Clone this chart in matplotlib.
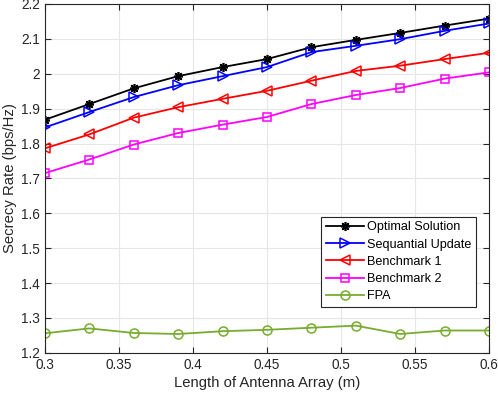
import numpy as np
import matplotlib
matplotlib.use("Agg")
import matplotlib.pyplot as plt
from matplotlib.ticker import MultipleLocator, FormatStrFormatter

plt.rcParams['font.family'] = ['Liberation Sans', 'DejaVu Sans']

L = [0.30, 0.33, 0.36, 0.39, 0.42, 0.45, 0.48, 0.51, 0.54, 0.57, 0.60]
optimal = [1.868, 1.913, 1.958, 1.993, 2.019, 2.042, 2.076, 2.097, 2.117, 2.138, 2.158]
sequential = [1.846, 1.890, 1.933, 1.967, 1.993, 2.019, 2.062, 2.080, 2.099, 2.123, 2.144]
bench1 = [1.786, 1.826, 1.874, 1.904, 1.928, 1.951, 1.980, 2.008, 2.023, 2.042, 2.060]
bench2 = [1.715, 1.754, 1.797, 1.830, 1.854, 1.876, 1.913, 1.939, 1.959, 1.986, 2.004]
fpa = [1.256, 1.270, 1.257, 1.254, 1.262, 1.266, 1.272, 1.278, 1.254, 1.264, 1.264]

fig = plt.figure(figsize=(4.98, 3.96), dpi=100)
ax = fig.add_axes([0.090, 0.109, 0.892, 0.881])

green = (0.466, 0.674, 0.188)
ax.plot(L, optimal, color='black', marker=(8, 2, 0), markersize=6.5, mew=1.2, lw=1.3, label='Optimal Solution')
ax.plot(L, sequential, color='blue', marker='>', markersize=7.5, mfc='none', mew=1.1, lw=1.3, label='Sequantial Update')
ax.plot(L, bench1, color='red', marker='<', markersize=7.5, mfc='none', mew=1.1, lw=1.3, label='Benchmark 1')
ax.plot(L, bench2, color='magenta', marker='s', markersize=5.5, mfc='none', mew=1.1, lw=1.3, label='Benchmark 2')
ax.plot(L, fpa, color=green, marker='o', markersize=6.5, mfc='none', mew=1.1, lw=1.3, label='FPA')

ax.set_xlim(0.3, 0.6)
ax.set_ylim(1.2, 2.2)
ax.xaxis.set_major_locator(MultipleLocator(0.05))
ax.yaxis.set_major_locator(MultipleLocator(0.1))
ax.xaxis.set_major_formatter(FormatStrFormatter('%g'))
ax.yaxis.set_major_formatter(FormatStrFormatter('%g'))
ax.tick_params(direction='in', top=True, right=True, labelsize=9.8, length=4, color='#262626', labelcolor='#262626')
ax.grid(True, color='#e6e6e6', linewidth=0.8)
ax.set_axisbelow(True)
for s in ax.spines.values():
    s.set_color('#262626')
    s.set_linewidth(0.8)

ax.set_xlabel('Length of Antenna Array (m)', fontsize=10.7, color='#262626', labelpad=3)
ax.set_ylabel('Secrecy Rate (bps/Hz)', fontsize=10.7, color='#262626', labelpad=3)

leg = ax.legend(loc='upper right', bbox_to_anchor=(0.971, 0.39), fontsize=9.1, fancybox=False,
                framealpha=1, edgecolor='#262626', borderpad=0.35, labelspacing=0.42,
                handlelength=3.0, handletextpad=0.3, borderaxespad=0)
leg.get_frame().set_linewidth(0.8)

fig.savefig('out.png', dpi=100)
plt.close(fig)
